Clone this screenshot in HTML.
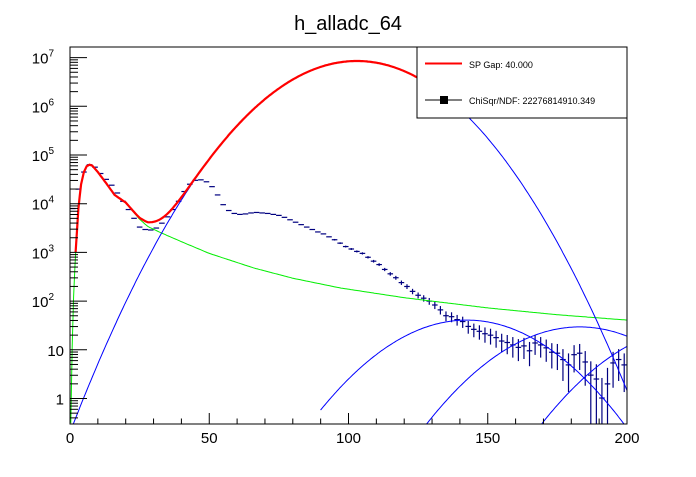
<!DOCTYPE html>
<html><head><meta charset="utf-8"><style>
html,body{margin:0;padding:0;background:#fff;}
svg text{font-family:"Liberation Sans",Arial,sans-serif;}
</style></head><body>
<svg id="c" width="696" height="472" xmlns="http://www.w3.org/2000/svg">
<rect width="696" height="472" fill="#fff"/>
<text x="348" y="30" text-anchor="middle" font-size="20">h_alladc_64</text>
<g id="plot"></g>
<rect x="70" y="47" width="557" height="377" fill="none" stroke="#000" stroke-width="1"/>
<g id="axes"></g>
<g>
<rect x="417" y="47" width="210" height="71" fill="#fff" stroke="#000"/>
<line x1="425" y1="63.5" x2="462" y2="63.5" stroke="#f00" stroke-width="2"/>
<text x="469" y="68" font-size="9">SP Gap: 40.000</text>
<line x1="425" y1="100" x2="462" y2="100" stroke="#000"/>
<rect x="440" y="96" width="8" height="8" fill="#000"/>
<text x="469" y="104" font-size="9">ChiSqr/NDF: 22276814910.349</text>
</g>
</svg>
<script>
const binCenters = [];
for (let i = 0; i < 100; i++) binCenters.push(1 + 2 * i);
const binLog10Counts = [3.9,4.3,4.65,4.80,4.75,4.62,4.50,4.38,4.22,4.05,3.88,3.70,3.52,3.47,3.46,3.50,3.60,3.73,3.88,4.05,
4.25,4.40,4.48,4.49,4.45,4.35,4.18,3.98,3.86,3.80,3.78,3.79,3.81,3.82,3.81,3.80,3.78,3.76,3.72,3.67,
3.62,3.57,3.52,3.47,3.42,3.38,3.32,3.26,3.19,3.12,3.07,3.02,2.98,2.90,2.82,2.75,2.65,2.56,2.48,2.38,
2.30,2.20,2.12,2.06,2.00,1.92,1.82,1.70,1.68,1.62,1.58,1.48,1.42,1.38,1.33,1.30,1.25,1.18,1.15,1.10,
1.05,1.08,0.98,1.14,1.10,1.04,0.95,0.93,0.80,0.69,0.90,0.93,0.75,0.48,0.40,0.01,0.30,0.73,0.80,0.69];
const pedestalX = [0.3,1,2,3,4,5,6,7,8,10,13,16,20,25,28,32,40,50,66,80,97,120,150,175,200];
const pedestalLog = [-0.5,1.7,3.0,3.9,4.4,4.65,4.77,4.80,4.78,4.65,4.42,4.18,4.02,3.68,3.53,3.42,3.22,2.98,2.68,2.47,2.27,2.07,1.86,1.72,1.61];
const peakLogHeight = [6.93, 1.61, 1.47, 1.45];
const peakMean = [103, 142.5, 183, 224];
const peakCurv = [0.000719, 0.00067, 0.00066, 0.00066];
const xTicks = [0,50,100,150,200];
const yDecades = [0,1,2,3,4,5,6,7];

const X0=70, X1=627, Y0=47, Y1=424;
const xs = x => X0 + (x/200)*(X1-X0);
const ys = lv => 398.5 - 48.7*lv;
const NS='http://www.w3.org/2000/svg';
const plot=document.getElementById('plot'), axes=document.getElementById('axes');
function mk(tag, attrs, parent){const e=document.createElementNS(NS,tag);for(const k in attrs)e.setAttribute(k,attrs[k]);parent.appendChild(e);return e;}
const clip=mk('clipPath',{id:'cp'},plot);mk('rect',{x:X0,y:Y0,width:X1-X0,height:Y1-Y0},clip);
const g=mk('g',{'clip-path':'url(#cp)'},plot);

function pedLog(x){
  if (x<=pedestalX[0]) return pedestalLog[0];
  for(let i=1;i<pedestalX.length;i++){ if(x<=pedestalX[i]){const t=(x-pedestalX[i-1])/(pedestalX[i]-pedestalX[i-1]);return pedestalLog[i-1]+t*(pedestalLog[i]-pedestalLog[i-1]);}}
  return pedestalLog[pedestalLog.length-1];
}
function gLog(k,x){return peakLogHeight[k]-peakCurv[k]*(x-peakMean[k])*(x-peakMean[k]);}
function poly(fn,a,b,color,w,name){
  let pts=[];for(let x=a;x<=b;x+=0.5){pts.push(xs(x).toFixed(1)+','+ys(fn(x)).toFixed(1));}
  const p=mk('polyline',{points:pts.join(' '),fill:'none',stroke:color,'stroke-width':w},g);
  
  
}
const dg=mk('g',{},g);


binCenters.forEach((c,i)=>{
  const n=Math.pow(10,binLog10Counts[i]); const e=1.6*Math.sqrt(n);
  const y=ys(binLog10Counts[i]);
  const hi=ys(Math.log10(n+e)); const lo=n-e>0?ys(Math.log10(n-e)):Y1+5;
  const h=mk('line',{x1:xs(c-1),x2:xs(c+1),y1:y,y2:y,stroke:'#000080','stroke-width':1.2},dg);
  
  
  if (lo-hi>1.5){
    const v=mk('line',{x1:xs(c),x2:xs(c),y1:hi,y2:lo,stroke:'#000080','stroke-width':1.2},dg);
    
    
  }
});
poly(pedLog,0.3,200,'#00ee00',1,'pedestal-curve');
poly(x=>gLog(0,x),0,200,'#0000ff',1,'gauss-1pe');
poly(x=>gLog(1,x),90,200,'#0000ff',1,'gauss-2');
poly(x=>gLog(2,x),120,200,'#0000ff',1,'gauss-3');
poly(x=>gLog(3,x),160,200,'#0000ff',1,'gauss-4');
poly(x=>Math.log10(Math.pow(10,pedLog(x))+Math.pow(10,gLog(0,x))),2,125,'#ff0000',2.2,'total-fit-curve');

for(let v=0;v<=200;v+=10){
  const major=xTicks.indexOf(v)>=0;
  const t=mk('line',{x1:xs(v),x2:xs(v),y1:Y1,y2:Y1-(major?11:5.5),stroke:'#000'},axes);
  
  
}
xTicks.forEach(v=>{
  const t=mk('text',{x:xs(v),y:443,'text-anchor':'middle','font-size':15},axes);
  t.textContent=v;
  
  
});
for(let d=-1;d<=7;d++){
  for(let m=1;m<=9;m++){
    const lv=d+Math.log10(m); const y=ys(lv);
    if(y<Y0||y>Y1) continue;
    const t=mk('line',{x1:X0,x2:X0+(m===1?17:8),y1:y,y2:y,stroke:'#000'},axes);
    
    
  }
}
yDecades.forEach(d=>{
  const y=ys(d);
  const t=mk('text',{x:d<2?64:54,y:y+6,'text-anchor':'end','font-size':15},axes);
  if(d===0) t.textContent='1'; else if(d===1) t.textContent='10';
  else { t.textContent='10'; const s=mk('tspan',{'font-size':10,dy:-7},t); s.textContent=d; }
  
  
});
</script>
</body></html>
